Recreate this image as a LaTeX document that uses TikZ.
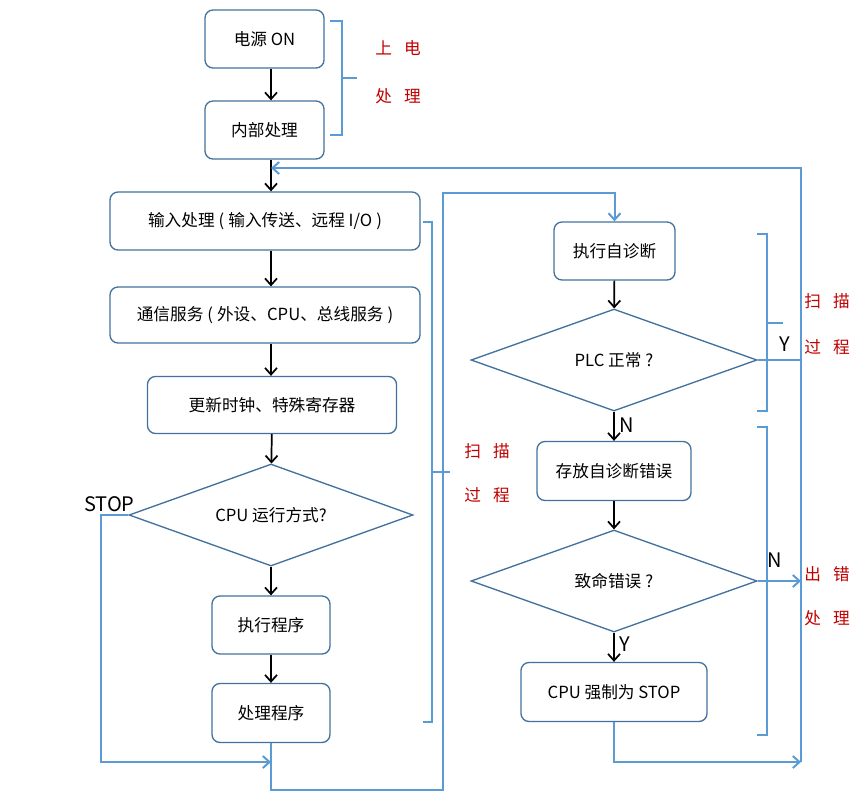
\documentclass[tikz,border=0pt]{standalone}
\usepackage{fontspec}
\setmainfont{Noto Sans CJK SC}
\usetikzlibrary{positioning,shapes.geometric,arrows.meta}
\definecolor{boxblue}{HTML}{41719C}
\definecolor{lineblue}{HTML}{5B9BD5}
\definecolor{notered}{HTML}{C00000}

\begin{document}
\begin{tikzpicture}[
    x=0.75pt, y=-0.75pt,
    >={Straight Barb[length=5pt,width=9pt]},
    font=\fontsize{12.5}{15}\selectfont,
    box/.style={
        rectangle,
        rounded corners=6pt,
        draw=boxblue,
        line width=1pt,
        inner sep=0pt,},
    choice/.style={
        diamond,
        aspect=2.8,
        draw=boxblue,
        line width=1pt,
        inner sep=0pt,},
    sz/.style 2 args={minimum width=#1*0.75pt, minimum height=#2*0.75pt},
    flow/.style={->, line width=1.3pt, black},
    back/.style={lineblue, line width=1.5pt},
    note/.style={text=notered},
    yn/.style={font=\fontsize{15}{18}\selectfont}
]
\useasboundingbox (0,0) rectangle (864,801);

% main column
\node[box,sz={119}{58}] (power) at (264.5,39) {电源 ON};
\node[box,sz={119}{58}] (init) at (264.5,130) {内部处理};
\node[box,sz={310}{58}] (input) at (265,221) {输入处理\hspace{3pt}(\hspace{3pt}输入传送、远程 I/O\hspace{3pt})};
\node[box,sz={310}{56}] (comm) at (265,315) {通信服务\hspace{3pt}(\hspace{3pt}外设、CPU、总线服务\hspace{3pt})};
\node[box,sz={249}{57}] (clock) at (272,405) {更新时钟、特殊寄存器};
\node[choice,sz={284}{102}] (mode) at (271,515) {CPU 运行方式?};
\node[box,sz={118}{58}] (run) at (271,625) {执行程序};
\node[box,sz={118}{59}] (proc) at (271,713) {处理程序};

% self check column
\node[box,sz={121}{58}] (diag) at (614.5,251) {执行自诊断};
\node[choice,sz={286}{102}] (plcok) at (614,360) {PLC 正常\hspace{3pt}?};
\node[box,sz={154}{59}] (store) at (614,471) {存放自诊断错误};
\node[choice,sz={286}{102}] (fatal) at (614,581) {致命错误\hspace{3pt}?};
\node[box,sz={186}{59}] (halt) at (614,692) {CPU 强制为 STOP};

\coordinate (rejoin) at (271,168);
\coordinate (join) at (271,762);
\coordinate (railtop) at (801,168);
\coordinate (railbot) at (801,762);

\draw[flow] (power.south -| mode.north) -- (init.north -| mode.north);
\draw[flow] (init.south -| mode.north) -- (input.north -| mode.north);
\draw[flow] (input.south -| mode.north) -- (comm.north -| mode.north);
\draw[flow] (comm.south -| mode.north) -- (clock.north -| mode.north);
\draw[flow] (clock) -- (mode);
\draw[flow] (mode) -- (run);
\draw[flow] (run) -- (proc);
\draw[flow] (diag) -- (plcok);
\draw[flow] (plcok) -- node[yn,right,pos=0.45] {N} (store);
\draw[flow] (store) -- (fatal);
\draw[flow] (fatal) -- node[yn,right,pos=0.4] {Y} (halt);

% blue return paths
\draw[back,->] (mode.west) -- ++(-27,0) node[yn,black,above,xshift=6pt,yshift=-2pt] {STOP} |- (join);
\draw[back,->] (proc.south) |- (443,790) -- (443,193) -| (diag.north);
\draw[back] (plcok.east) -- (plcok.east -| railtop) node[yn,black,above left,xshift=-4pt,yshift=2pt] {Y};
\draw[back,->] (fatal.east) -- (fatal.east -| railtop) node[yn,black,above left,xshift=-10pt,yshift=6pt] {N};
\draw[back,->] (halt.south) |- (railbot);
\draw[back,->] (railbot) -- (railtop) -- (rejoin);

% braces
\draw[back] (330,21) -- (342,21) -- (342,135) -- (330,135);
\draw[back] (342,78) -- (357,78);
\draw[back] (423,222) -- (432,222) -- (432,722) -- (423,722);
\draw[back] (432,472) -- (450,472);
\draw[back] (757,234) -- (767,234) -- (767,411) -- (757,411);
\draw[back] (767,323) -- (783,323);
\draw[back] (757,427) -- (767,427) -- (767,735) -- (757,735);

% notes
\node[note] (pw1) at (398,48) {上\hspace{9pt}电};
\node[note] (pw2) at (398,96) {处\hspace{9pt}理};
\node[note] (sc1) at (487,451) {扫\hspace{9pt}描};
\node[note] (sc2) at (487,495) {过\hspace{9pt}程};
\node[note] (sc3) at (827,301) {扫\hspace{9pt}描};
\node[note] (sc4) at (827,347) {过\hspace{9pt}程};
\node[note] (er1) at (827,574) {出\hspace{9pt}错};
\node[note] (er2) at (827,618) {处\hspace{9pt}理};

\end{tikzpicture}
\end{document}
